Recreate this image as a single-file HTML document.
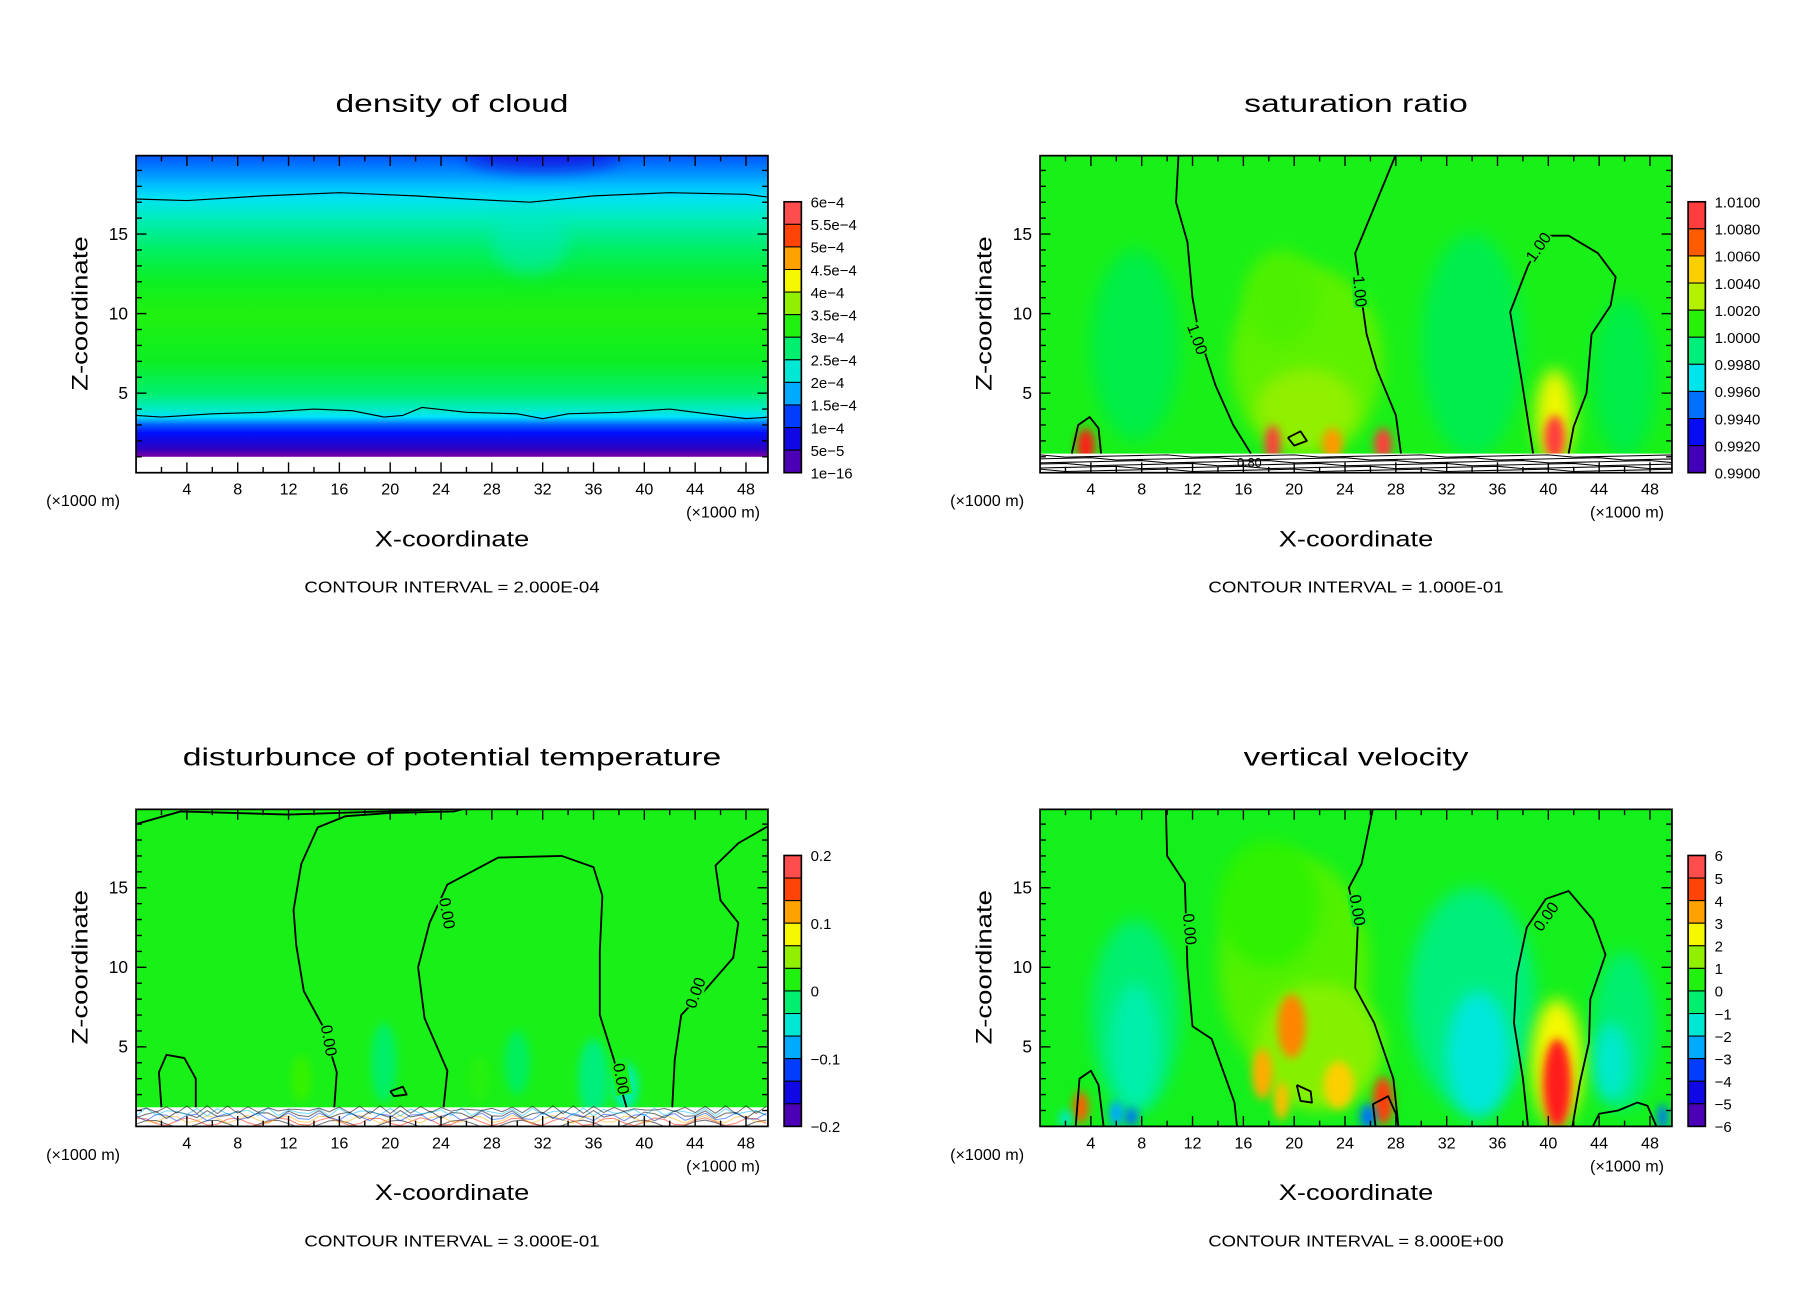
<!DOCTYPE html>
<html><head><meta charset="utf-8">
<style>
html,body{margin:0;padding:0;background:#fff;}
svg{display:block;}
text{font-family:"Liberation Sans",sans-serif;fill:#000;}
</style></head>
<body>
<svg id="fig" width="1808" height="1308" viewBox="0 0 1568 1134.5" preserveAspectRatio="none" xmlns="http://www.w3.org/2000/svg">
<defs>
<filter id="blur" x="-50%" y="-50%" width="200%" height="200%"><feGaussianBlur stdDeviation="7"/></filter>
<filter id="blurS" x="-50%" y="-50%" width="200%" height="200%"><feGaussianBlur stdDeviation="4"/></filter>
</defs>
</svg>
<script>
// ---------- data ----------
const xTickLabels=[4,8,12,16,20,24,28,32,36,40,44,48];
const zTickLabels=[5,10,15];
const panelTitles=["density of cloud","saturation ratio","disturbunce of potential temperature","vertical velocity"];
const contourIntervals=["CONTOUR INTERVAL = 2.000E-04","CONTOUR INTERVAL = 1.000E-01","CONTOUR INTERVAL = 3.000E-01","CONTOUR INTERVAL = 8.000E+00"];
const densityLabels=["6e-4","5.5e-4","5e-4","4.5e-4","4e-4","3.5e-4","3e-4","2.5e-4","2e-4","1.5e-4","1e-4","5e-5","1e-16"];
const saturationLabels=["1.0100","1.0080","1.0060","1.0040","1.0020","1.0000","0.9980","0.9960","0.9940","0.9920","0.9900"];
const temperatureLabels=["0.2","0.1","0","-0.1","-0.2"];
const velocityLabels=["6","5","4","3","2","1","0","-1","-2","-3","-4","-5","-6"];
const densityRange=[0,6];
const saturationRange=[0.99,1.01];
const temperatureRange=[-0.2,0.2];
const velocityRange=[-6,6];
const densityZ=[20,19,18,17.3,16,14,12,10,7,5,4,3.5,3,2.5,2,1.5,1.1,1.0];
const densityV=[1.35,1.6,1.85,2.05,2.4,2.8,3.1,3.25,3.1,2.75,2.35,2.0,1.4,1.0,0.7,0.4,0.08,0.02];
const saturationBase=1.0006;
const saturationBlobs=[[7.5,8,3.5,6,0.9997],[34,8,4,7,0.9996],[46,6,2.5,5,0.9997],[21,7,6,6,1.0018],[19,11,3,3,1.0016],[21,4,4,2.5,1.0025],
[3.6,1.7,0.7,1.1,1.0085],[18.3,1.8,0.6,1.2,1.009],[23,1.8,0.8,1,1.006],[27,1.8,0.7,1,1.009],[40.5,3.5,1.5,3,1.004],[40.5,2.2,0.8,1.4,1.009]];
const temperatureBase=0.012;
const temperatureBlobs=[[19.5,4,1,2.5,-0.015],[30,4,1,2,-0.012],[36,3,1.2,2.5,-0.02],[38.5,2.5,1,1.5,-0.035],[13,3,0.8,1.5,0.025],[27,3,0.8,1.5,0.02]];
const velocityBase=0.3;
const velocityBlobs=[[7.5,7,3.5,6,-0.5],[34,8,5,7,-0.6],[46,6,2.5,5,-0.5],[7.5,5,2,4,-1.0],[34.5,4.5,2.5,4,-1.6],[45,4,1.5,2.5,-1.4],
[20,10,6,7,1.0],[18,14,4,4,0.7],[22,5,5,4,1.4],
[19.8,6.3,1.1,2,3.8],[17.5,3.3,0.8,1.6,3.4],[19,1.6,0.6,1.2,3.2],[23.5,2.6,1.2,1.5,3.0],[27,1.6,0.8,1.5,4.6],[40.7,4,2,4,2.5],[40.7,2.7,1.1,2.8,5.2],[3.2,1.2,0.6,1,4.2],
[6,0.8,0.6,0.8,-2.5],[7.2,0.6,0.5,0.6,-3],[25.8,0.6,0.6,0.8,-3],[49,0.6,0.4,0.8,-3],[2,0.5,0.5,0.5,-1.5]];
const satContours=[
 [[10.9,20],[10.7,17],[11.6,14.5],[12,11],[12.5,8.7],[13.8,5.5],[15.2,3],[16.6,1.2]],
 [[28,20],[26.1,16.3],[24.8,13.8],[25.7,8.7],[26.5,6.5],[28,3.6],[28.4,1.2]],
 [[38.8,1.2],[37.9,5.8],[37,10.1],[38.4,13],[39.7,14.9],[41.6,14.9],[43.9,13.8],[45.3,12.3],[44.9,10.5],[43.4,8.7],[43,5],[42,2.9],[41.6,1.2]],
 [[2.5,1.2],[3,3],[3.9,3.5],[4.6,2.8],[4.8,1.2]],
 [[19.5,2.2],[20.5,2.6],[21,2],[20,1.7],[19.5,2.2]]];
const tempContours=[
 [[0,19],[3.5,19.8],[12,19.6],[19.5,19.8],[26,20]],
 [[15.6,1.2],[15.8,3.4],[14.7,6.3],[13.2,8.5],[12.6,11.4],[12.4,13.6],[13,16.5],[14.3,18.8],[16.5,19.5],[20,19.7],[25,19.8],[26,20]],
 [[24.2,1.2],[24.5,3.5],[22.7,6.8],[22.2,10],[23.1,12.8],[24.5,15.2],[28.5,16.9],[33.5,17],[36,16.3],[36.7,14.5],[36.5,11],[36.5,7],[37.6,4.2],[38.2,2.3],[38.6,1.2]],
 [[49.8,18.9],[47.4,17.8],[45.6,16.4],[46,14.2],[47.4,12.8],[47,10.6],[44.7,8.5],[42.9,7],[42.4,4.2],[42.2,1.2]],
 [[2,1.2],[1.8,3.4],[2.4,4.5],[3.8,4.3],[4.7,3],[4.7,1.2]],
 [[20,2.2],[21,2.5],[21.3,2],[20.3,1.9],[20,2.2]]];
const velContours=[
 [[9.9,20],[10,17],[11.4,15.3],[11.6,10],[12,6.3],[13.5,5.5],[14.4,3.5],[15.3,1.5],[15.5,0]],
 [[26.2,20],[25.3,16.5],[24.3,15],[25,12.5],[24.8,8.7],[26.3,6.5],[27.8,3],[28.2,0]],
 [[38.4,0],[38,3],[37.3,6.5],[37.5,9.5],[38.3,12.5],[39.8,14.3],[41.6,14.8],[43.5,13],[44.5,10.8],[43.3,8],[43.2,5.3],[42.5,2.8],[41.9,0]],
 [[2.8,0],[3.1,3],[4,3.5],[4.6,2.6],[5,0]],
 [[20.2,2.6],[21.3,2.2],[21.4,1.5],[20.5,1.6],[20.2,2.6]],
 [[26.4,0],[26.2,1.4],[27.4,1.9],[28,0.8],[28.2,0]],
 [[43.5,0],[44,0.8],[45.5,1],[47,1.5],[47.8,1.3],[48.5,0]]];
const contourLabelsData=[
 [1,"1.00",12.4,8.4,70],[1,"1.00",25.2,11.4,85],[1,"1.00",39.2,14.2,-55],
 [2,"0.00",15.2,5.4,80],[2,"0.00",24.5,13.4,80],[2,"0.00",38.2,3,80],[2,"0.00",44,8.4,-70],
 [3,"0.00",11.8,12.4,85],[3,"0.00",25,13.6,80],[3,"0.00",39.8,13.2,-55]];

// ---------- layout ----------
const NS="http://www.w3.org/2000/svg";
const svg=document.getElementById('fig');
const PW=548,PH=275,XS=11.02,ZS=13.8;
const panels=[{ox:118,oy:135},{ox:902,oy:135},{ox:118,oy:702},{ox:902,oy:702}];
const cmapStops=[[0,'#7a00a0'],[0.08,'#2000c8'],[0.17,'#0010ff'],[0.25,'#0070ff'],[0.33,'#00e0ff'],[0.42,'#00f0a8'],[0.5,'#00ee30'],[0.56,'#30f200'],[0.64,'#a8f000'],[0.71,'#f8f800'],[0.78,'#ffb000'],[0.86,'#ff5000'],[0.93,'#ff1818'],[1,'#ff9a9a']];
function hex(c){return [parseInt(c.slice(1,3),16),parseInt(c.slice(3,5),16),parseInt(c.slice(5,7),16)];}
function cmap(t){t=Math.max(0,Math.min(1,t));for(let i=1;i<cmapStops.length;i++){if(t<=cmapStops[i][0]){const a=cmapStops[i-1],b=cmapStops[i];const f=(t-a[0])/(b[0]-a[0]);const A=hex(a[1]),B=hex(b[1]);return 'rgb('+A.map((v,k)=>Math.round(v+(B[k]-v)*f)).join(',')+')';}}return cmapStops[cmapStops.length-1][1];}
function norm(v,r){return (v-r[0])/(r[1]-r[0]);}
function el(tag,attrs,parent){const e=document.createElementNS(NS,tag);for(const k in attrs)e.setAttribute(k,attrs[k]);(parent||svg).appendChild(e);return e;}
function txt(s,x,y,size,parent,extra){const t=el('text',Object.assign({x:x,y:y,'font-size':size},extra||{}),parent);t.textContent=s;return t;}
function axes(p){return {sx:x=>p.ox+x*XS, sz:z=>p.oy+PH-z*ZS};}

function drawPanel(i,range,labels,base,blobs,contours,opts){
  const p=panels[i];const A=axes(p);
  const g=el('g',{});
  
  
  const cid='clip'+i;
  const cp=el('clipPath',{id:cid},g);el('rect',{x:p.ox,y:p.oy,width:PW,height:PH},cp);
  const field=el('g',{'clip-path':'url(#'+cid+')'},g);
  
  
  if(opts.profile){
    const gid='grad'+i;const lg=el('linearGradient',{id:gid,x1:0,y1:0,x2:0,y2:1,gradientUnits:'userSpaceOnUse'},g);
    lg.setAttribute('y1',A.sz(20));lg.setAttribute('y2',A.sz(0));
    opts.profile.z.forEach((z,k)=>{el('stop',{offset:((20-z)/20).toFixed(4),'stop-color':cmap(norm(opts.profile.v[k],range))},lg);});
    el('rect',{x:p.ox,y:p.oy,width:PW,height:PH,fill:'url(#'+gid+')'},field);
    const dip=el('ellipse',{cx:A.sx(31),cy:A.sz(14.5),rx:3*XS,ry:2*ZS,fill:cmap(norm(2.3,range)),filter:'url(#blur)',opacity:0.5},field);
    
    
    const topDark=el('ellipse',{cx:A.sx(32),cy:A.sz(20),rx:6*XS,ry:1.0*ZS,fill:cmap(norm(0.7,range)),filter:'url(#blur)',opacity:0.8},field);
    
    
    el('rect',{x:p.ox,y:A.sz(1.0),width:PW,height:ZS*1.0,fill:'#fff'},field);
  } else {
    el('rect',{x:p.ox,y:p.oy,width:PW,height:PH,fill:cmap(norm(base,range))},field);
  }
  blobs.forEach(b=>{
    const e=el('ellipse',{cx:A.sx(b[0]),cy:A.sz(b[1]),rx:b[2]*XS,ry:b[3]*ZS,fill:cmap(norm(b[4],range)),filter:(b[2]<1.3?'url(#blurS)':'url(#blur)')},field);
    
    
  });
  if(opts.whiteBand){
    el('rect',{x:p.ox,y:A.sz(1.2),width:PW,height:1.2*ZS,fill:'#fff'},field);
    if(opts.whiteBand==='lines'){
      for(let k=0;k<6;k++){const z=0.15+k*0.18;let d='';for(let x=0;x<=50;x+=2){d+=(x?'L':'M')+A.sx(x)+','+(A.sz(z)+((x*7+k*3)%5-2)*0.5);}const l=el('path',{d:d,fill:'none',stroke:'#000','stroke-width':0.9},field);}
      txt('0.80',A.sx(15.5),A.sz(0.35),11,field);
    } else {
      const cols=['#000','#ff2000','#ffb000','#0040ff','#000','#00c0ff','#000'];
      for(let k=0;k<7;k++){const z=0.15+k*0.15;let d='';for(let x=0;x<=50;x+=0.8){const w=Math.sin(x*(1.3+k*0.4)+k)*0.25;d+=(x?'L':'M')+A.sx(x).toFixed(1)+','+A.sz(z+w).toFixed(1);}const l=el('path',{d:d,fill:'none',stroke:cols[k],'stroke-width':0.9,opacity:0.55},field);}
    }
  }
  contours.forEach(c=>{
    const d=c.map((pt,k)=>(k?'L':'M')+A.sx(pt[0]).toFixed(1)+','+A.sz(pt[1]).toFixed(1)).join('');
    const l=el('path',{d:d,fill:'none',stroke:'#000','stroke-width':opts.thin?1:1.6,'stroke-linejoin':'round'},field);
    
    
  });
  contourLabelsData.filter(c=>c[0]===i).forEach(c=>{
    const x=A.sx(c[2]),y=A.sz(c[3]);
    el('rect',{x:x-14,y:y-7,width:28,height:14,fill:cmap(norm(base,range)),transform:'rotate('+c[4]+' '+x+' '+y+')'},field);
    const t=txt(c[1],x,y+5,14,field,{'text-anchor':'middle',transform:'rotate('+c[4]+' '+x+' '+y+')'});
    
    
  });
  const fr=el('rect',{x:p.ox,y:p.oy,width:PW,height:PH,fill:'none',stroke:'#000','stroke-width':1.5},g);
  
  
  for(let x=2;x<=48;x+=2){const maj=(x%4===0);const L=maj?9:5;
    el('line',{x1:A.sx(x),y1:p.oy+PH,x2:A.sx(x),y2:p.oy+PH-L,stroke:'#000','stroke-width':1.2},g);
    el('line',{x1:A.sx(x),y1:p.oy,x2:A.sx(x),y2:p.oy+L,stroke:'#000','stroke-width':1.2},g);}
  xTickLabels.forEach(x=>{const t=txt(String(x),A.sx(x),p.oy+PH+19,14,g,{'text-anchor':'middle'});});
  for(let z=1;z<=19;z++){const maj=(z%5===0);const L=maj?9:5;
    el('line',{x1:p.ox,y1:A.sz(z),x2:p.ox+L,y2:A.sz(z),stroke:'#000','stroke-width':1.2},g);
    el('line',{x1:p.ox+PW,y1:A.sz(z),x2:p.ox+PW-L,y2:A.sz(z),stroke:'#000','stroke-width':1.2},g);}
  zTickLabels.forEach(z=>{const t=txt(String(z),p.ox-7,A.sz(z)+5,15,g,{'text-anchor':'end'});});
  const u1=txt('(×1000 m)',p.ox-78,p.oy+PH+29,14,g);
  const u2=txt('(×1000 m)',p.ox+PW-71,p.oy+PH+39,14,g);
  const xt=txt('X-coordinate',p.ox+274,p.oy+PH+64,19,g,{'text-anchor':'middle',textLength:134,lengthAdjust:'spacingAndGlyphs'});
  const zt=txt('Z-coordinate',0,0,19,g,{'text-anchor':'middle',textLength:134,lengthAdjust:'spacingAndGlyphs',transform:'translate('+(p.ox-42)+','+(p.oy+137)+') rotate(-90)'});
  const tw=[202,194,467,195][i];
  const tt=txt(panelTitles[i],p.ox+274,p.oy-38,22,g,{'text-anchor':'middle',textLength:tw,lengthAdjust:'spacingAndGlyphs'});
  const ci=txt(contourIntervals[i],p.ox+274,p.oy+PH+104,14,g,{'text-anchor':'middle',textLength:256,lengthAdjust:'spacingAndGlyphs'});
  const cb=el('g',{},g);
  
  
  const bx=p.ox+562,by0=p.oy+40,bh=235,bw=15;
  const n=opts.bands;
  for(let k=0;k<n;k++){
    const y=by0+bh*k/n,h=bh/n;
    const t=1-(k+0.5)/n;
    const r=el('rect',{x:bx,y:y,width:bw,height:h,fill:cmap(t),stroke:'#000','stroke-width':0.9},cb);
    
    
  }
  el('rect',{x:bx,y:by0,width:bw,height:bh,fill:'none',stroke:'#000','stroke-width':1.4},cb);
  labels.forEach((s,k)=>{const t=txt(s.replace('-','−'),bx+23,by0+bh*k/(labels.length-1)+5,13,cb);});
}

drawPanel(0,densityRange,densityLabels,0,[],
  [[[0,17.2],[4,17.1],[10,17.4],[16,17.6],[22,17.4],[26,17.2],[31,17.0],[36,17.4],[42,17.6],[48,17.5],[50,17.3]],
   [[0,3.6],[2,3.5],[6,3.7],[10,3.8],[14,4.0],[17,3.9],[19.5,3.5],[21,3.6],[22.5,4.1],[26,3.8],[30,3.7],[32,3.4],[34,3.7],[38,3.8],[42,4.0],[44,3.8],[48,3.4],[50,3.5]]],
  {profile:{z:densityZ,v:densityV},bands:12,thin:true});
drawPanel(1,saturationRange,saturationLabels,saturationBase,saturationBlobs,satContours,{whiteBand:'lines',bands:10});
drawPanel(2,temperatureRange,temperatureLabels,temperatureBase,temperatureBlobs,tempContours,{whiteBand:'noise',bands:12});
drawPanel(3,velocityRange,velocityLabels,velocityBase,velocityBlobs,velContours,{bands:12});
</script>
</body></html>
